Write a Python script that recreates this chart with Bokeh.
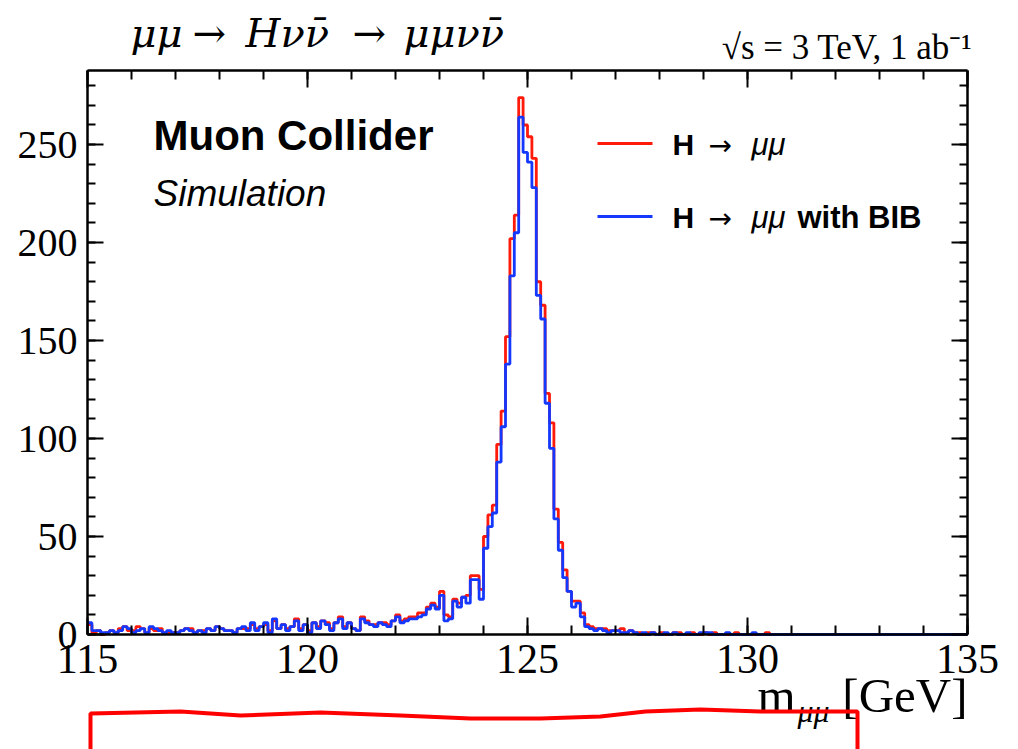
import numpy as np
from bokeh.plotting import figure
from bokeh.models import (Range1d, SingleIntervalTicker, LinearAxis, Label, PolyAnnotation,
                          CustomLabelingPolicy)
from bokeh.embed import file_html
from bokeh.resources import INLINE

# ---------------- data ----------------
x_min, x_max = 115.0, 135.0
n_bins = 200
y_max = 287.8

red_counts = [
    5, 1, 2, 0, 1, 2, 1, 3, 4, 2, 2, 4, 3, 1, 3, 2, 3, 1, 1, 1,
    1, 2, 3, 3, 1, 2, 2, 3, 2, 4, 3, 2, 2, 1, 3, 3, 3, 5, 3, 4,
    5, 2, 7, 3, 5, 3, 4, 8, 3, 5, 2, 6, 4, 7, 6, 3, 6, 9, 4, 6,
    3, 2, 9, 7, 5, 5, 6, 6, 5, 7, 10, 7, 8, 9, 9, 11, 11, 14, 16, 14,
    22, 10, 9, 18, 16, 19, 20, 30, 30, 23, 50, 61, 66, 97, 114, 152, 202, 214, 274, 260,
    254, 243, 180, 168, 123, 108, 64, 47, 33, 22, 17, 17, 11, 5, 4, 3, 3, 3, 2, 2,
    2, 3, 1, 2, 1, 1, 0, 1, 1, 0, 1, 0, 0, 1, 1, 0, 0, 1, 0, 0,
    1, 0, 1, 0, 0, 0, 0, 1, 0, 0, 0, 0, 0, 0, 1, 0, 0, 0, 0, 0,
    0, 0, 0, 0, 0, 0, 0, 0, 0, 0, 0, 0, 0, 0, 0, 0, 0, 0, 0, 0,
    0, 0, 0, 0, 0, 0, 0, 0, 0, 0, 0, 0, 0, 0, 0, 0, 0, 0, 0, 0,
]
blue_counts = [
    6, 2, 2, 1, 1, 2, 1, 2, 4, 3, 1, 2, 3, 1, 4, 3, 2, 1, 2, 1,
    1, 2, 3, 2, 1, 2, 1, 3, 2, 4, 3, 2, 2, 1, 3, 4, 2, 6, 2, 4,
    6, 1, 8, 3, 5, 2, 4, 7, 2, 5, 1, 6, 3, 7, 5, 2, 6, 8, 3, 6,
    3, 2, 8, 6, 5, 4, 6, 5, 4, 7, 9, 6, 7, 8, 8, 9, 10, 13, 15, 13,
    20, 7, 8, 17, 14, 19, 16, 28, 28, 18, 44, 55, 62, 88, 106, 138, 183, 205, 264, 246,
    241, 228, 173, 161, 118, 95, 59, 43, 29, 22, 14, 16, 9, 4, 3, 2, 3, 2, 1, 2,
    2, 1, 1, 2, 1, 0, 1, 0, 1, 0, 0, 1, 0, 1, 0, 0, 1, 0, 0, 1,
    1, 1, 0, 0, 0, 1, 0, 0, 0, 0, 0, 1, 0, 0, 0, 0, 0, 0, 0, 0,
    0, 0, 0, 0, 0, 0, 0, 0, 0, 0, 0, 0, 0, 0, 0, 0, 0, 0, 0, 0,
    0, 0, 0, 0, 0, 0, 0, 0, 0, 0, 0, 0, 0, 0, 0, 0, 0, 0, 0, 0,
]
x_tick_interval = 5
y_tick_interval = 50

# ---------------- layout ----------------
W, H = 1018, 749
L, R, T, B = 87, 967, 70, 634   # visible frame box in pixels

def dx(px):
    return x_min + (px - L) / (R - L) * (x_max - x_min)

def dy(py):
    return (B - py) / (B - T) * y_max

RED = "#ff1a0a"
BLUE = "#1538ff"

p = figure(width=W, height=H, x_range=Range1d(dx(0), dx(W)), y_range=Range1d(dy(H), dy(0)),
           output_backend="svg", toolbar_location=None,
           x_axis_location=None, y_axis_location=None,
           min_border=0, min_border_left=0, min_border_right=0, min_border_top=0, min_border_bottom=0)
p.title.visible = False
p.xgrid.visible = False
p.ygrid.visible = False
p.outline_line_color = None
p.background_fill_color = "white"
p.border_fill_color = "white"

SERIF = "Liberation Serif"
SANS = "Liberation Sans"

def make_axis(interval, loc, bounds, labels, font_size, tick_major, tick_minor):
    ax = LinearAxis(ticker=SingleIntervalTicker(interval=interval, num_minor_ticks=5),
                    fixed_location=loc, bounds=bounds)
    ax.axis_line_color = "black"
    ax.axis_line_width = 2.5
    ax.major_tick_in = tick_major
    ax.major_tick_out = 0
    ax.minor_tick_in = tick_minor
    ax.minor_tick_out = 0
    ax.major_tick_line_width = 2
    ax.minor_tick_line_width = 2
    ax.major_tick_line_color = "black"
    ax.minor_tick_line_color = "black"
    ax.major_label_text_font = SERIF
    ax.major_label_text_font_size = font_size
    ax.major_label_text_color = "black"
    ax.major_label_standoff = 10
    if not labels:
        ax.major_label_policy = CustomLabelingPolicy(code="return new Set()")
    return ax

p.add_layout(make_axis(x_tick_interval, 0, (x_min, x_max), True, "42px", 17, 9), "below")
p.add_layout(make_axis(x_tick_interval, y_max, (x_min, x_max), False, "42px", 17, 9), "above")
p.add_layout(make_axis(y_tick_interval, x_min, (0, y_max), True, "40px", 16, 8), "left")
p.add_layout(make_axis(y_tick_interval, x_max, (0, y_max), False, "40px", 16, 8), "right")

edges = np.linspace(x_min, x_max, n_bins + 1)
red_y = np.append(np.array(red_counts, dtype=float), red_counts[-1])
blue_y = np.append(np.array(blue_counts, dtype=float), blue_counts[-1])
p.step(x=edges, y=red_y, mode="after", line_color=RED, line_width=2.8)
p.step(x=edges, y=blue_y, mode="after", line_color=BLUE, line_width=2.8)

# ---------------- texts ----------------
def label(px, py, text, font=SANS, size=28, style="normal", align="left", color="black"):
    # py is the intended visual baseline; compensate the renderer's baseline shift
    p.add_layout(Label(x=dx(px), y=dy(py - 0.33 * size), text=text, text_font=font,
                       text_font_size=f"{size}px", text_font_style=style, text_align=align,
                       text_baseline="alphabetic", text_color=color))

label(153, 149, "Muon Collider", SANS, 42, "bold")
label(153, 205, "Simulation", SANS, 37, "italic")

# legend
legend_y = [143, 216]
legend_colors = [RED, BLUE]
for ly, col in zip(legend_y, legend_colors):
    p.add_layout(PolyAnnotation(xs=[dx(597), dx(652)], ys=[dy(ly), dy(ly)], line_color=col,
                                line_alpha=1.0, line_width=3, fill_color=None, fill_alpha=0))
    label(672, ly + 11, "H", SANS, 30, "bold")
    label(708, ly + 11, "\u2192", "DejaVu Sans", 28, "normal")
    label(751, ly + 11, "\u03bc\u03bc", SANS, 31, "italic")
label(797, legend_y[1] + 11, "with BIB", SANS, 31, "bold")

# title (pieces placed separately)
TF = "DejaVu Serif"
label(130, 46, "\u03bc\u03bc", TF, 40, "italic")
label(192, 46, "\u2192", TF, 40, "normal")
label(245, 46, "H\u03bd\u03bd\u0304", TF, 40, "italic")
label(352, 46, "\u2192", TF, 40, "normal")
label(403, 46, "\u03bc\u03bc\u03bd\u03bd\u0304", TF, 40, "italic")

# energy / luminosity
label(972, 59, "\u221as = 3 TeV, 1 ab\u207b\u00b9", SERIF, 35, "normal", align="right")

# x axis title
label(757, 711, "m", SERIF, 49)
label(797, 721, "\u03bc\u03bc", SERIF, 32, "italic")
label(967, 711, "[GeV]", SERIF, 49, align="right")

# red bracket annotation under axis
br_x = [90, 90, 180, 240, 320, 400, 470, 540, 600, 645, 700, 760, 820, 857, 857]
br_y = [760, 713, 711, 715, 712, 715, 718, 718, 716, 711, 709, 711, 711, 711, 760]
p.add_layout(PolyAnnotation(xs=[dx(v) for v in br_x], ys=[dy(v) for v in br_y],
                            line_color="#ff0000", line_alpha=1.0, line_width=4,
                            fill_color=None, fill_alpha=0))

open("out.html", "w").write(file_html(p, INLINE))
